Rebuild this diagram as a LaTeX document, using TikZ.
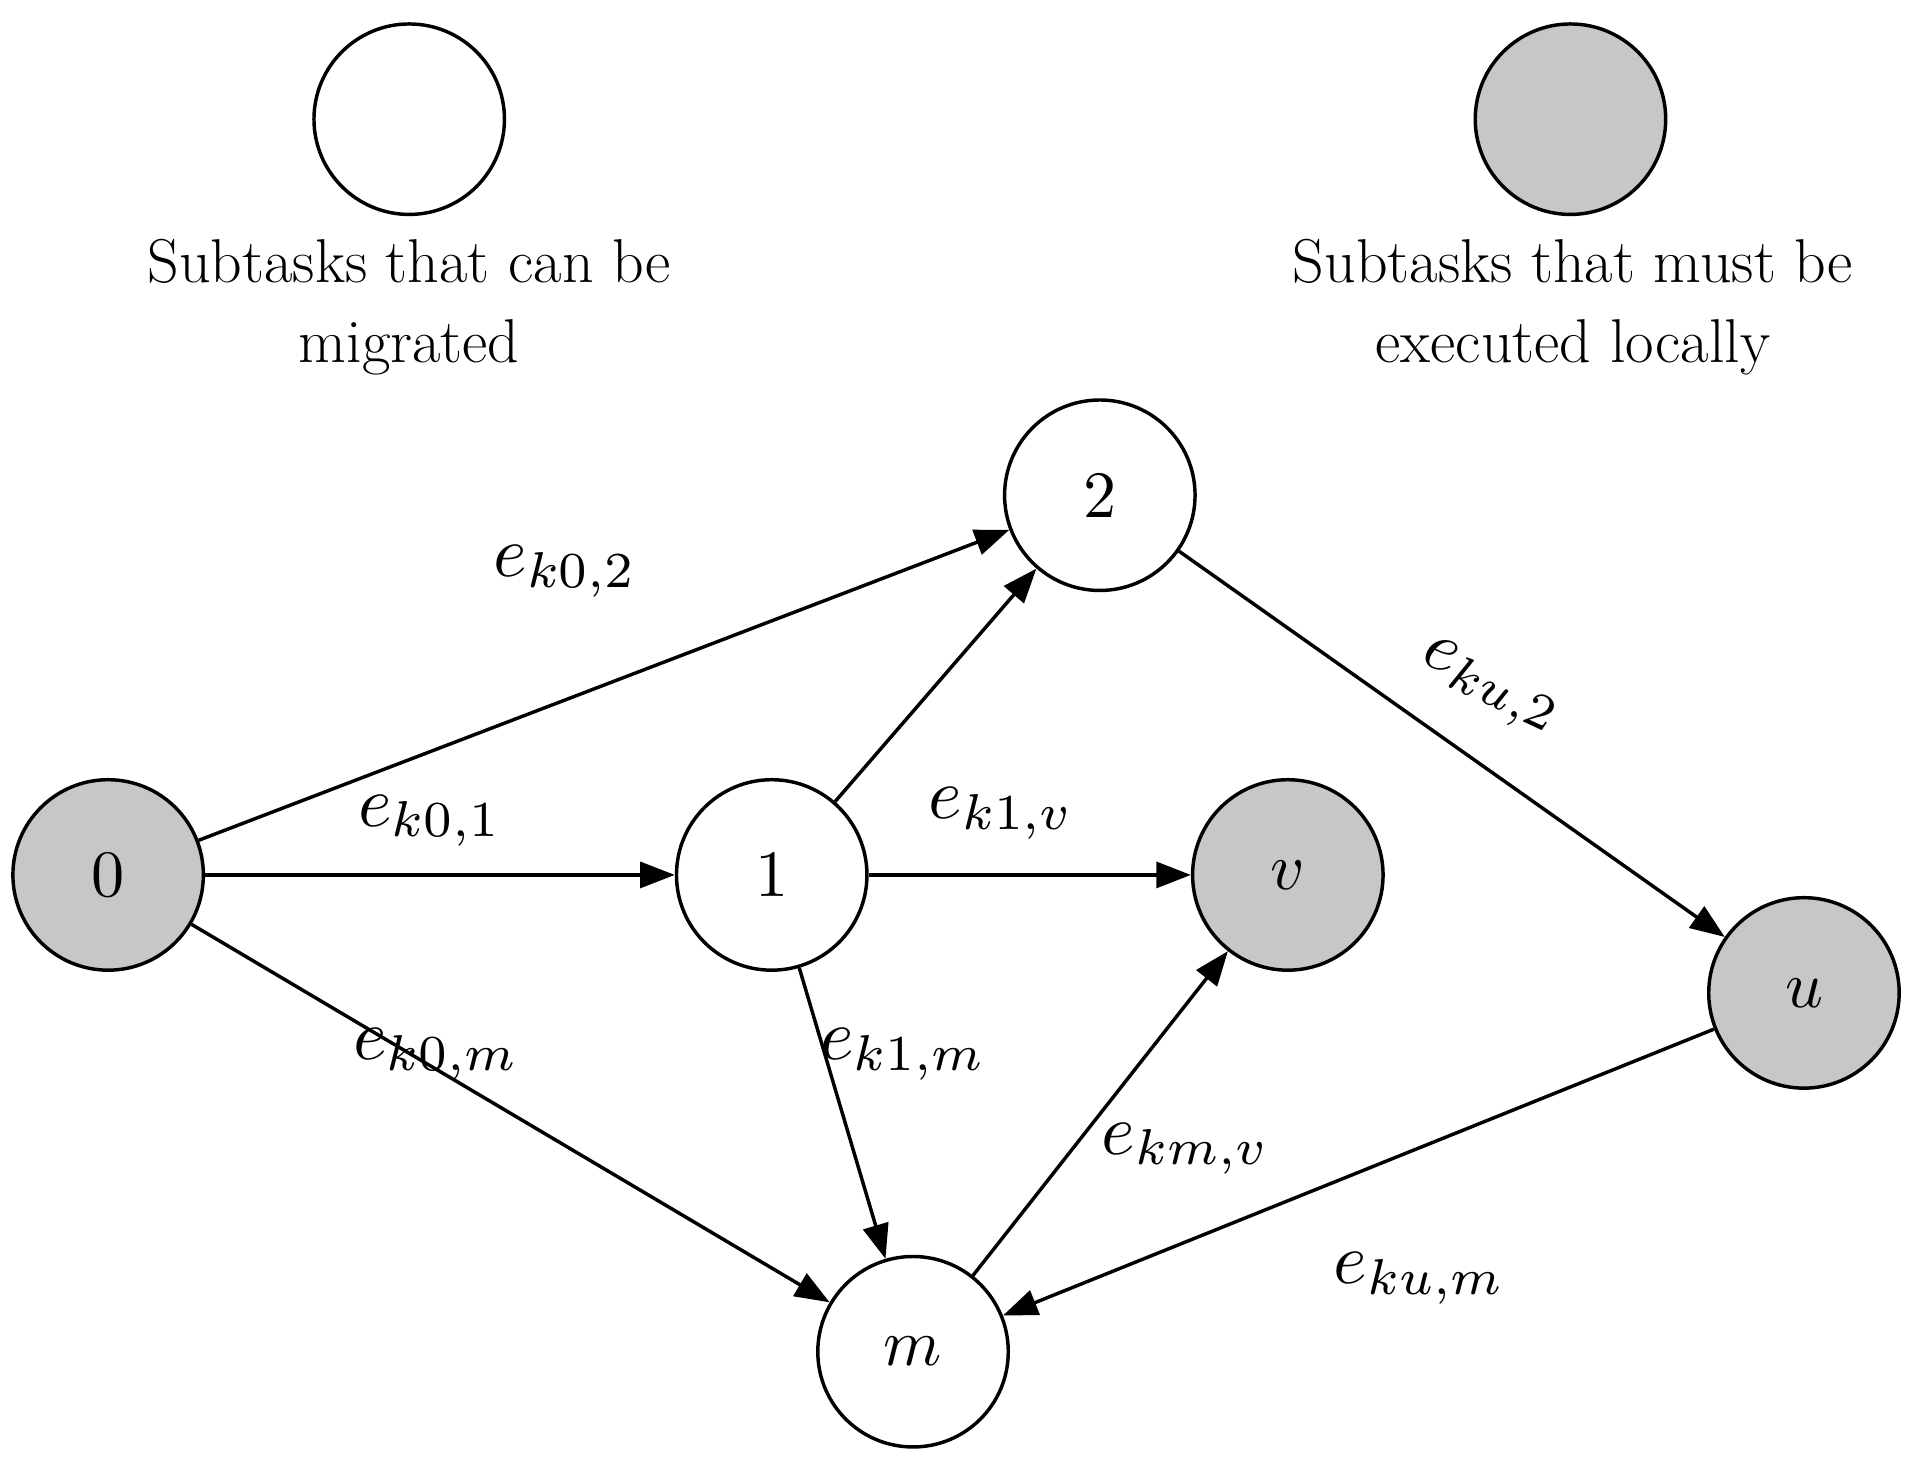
\documentclass[tikz,border=0pt]{standalone}
\usepackage{graphicx}
\usetikzlibrary{arrows.meta}
\newcommand\SclA[1]{\scalebox{5}{#1}}
\newcommand\SclB[1]{\scalebox{4.6}{#1}}
\begin{document}
\begin{tikzpicture}[x=0.03cm,y=-0.03cm,
  nd/.style={circle,draw,line width=2.4pt,minimum size=4.65cm,inner sep=0pt},
  loc/.style={nd,fill=black!22},
  ar/.style={line width=2.4pt,-{Triangle[length=24pt,width=18pt]}},
  tx/.style={font=\fontsize{43}{56}\selectfont,align=center}]
\useasboundingbox (0,0) rectangle (1560,1188);
\node[nd] (lw) at (333,97) {};
\node[loc] (lg) at (1278,97) {};
\node[tx] (tw) at (333,250) {Subtasks that can be\\migrated};
\node[tx] (tg) at (1280,250) {Subtasks that must be\\executed locally};
\node[loc] (n0) at (88,712) {\SclB{0}};
\node[nd] (n1) at (628,712) {\SclB{1}};
\node[nd] (n2) at (895,403) {\SclB{2}};
\node[loc] (nv) at (1048,712) {\SclB{$v$}};
\node[loc] (nu) at (1468,808) {\SclB{$u$}};
\node[nd] (nm) at (743,1100) {\SclB{$m$}};
\draw[ar] (n0) -- (n2);
\draw[ar] (n0) -- (n1);
\draw[ar] (n0) -- (nm);
\draw[ar] (n1) -- (n2);
\draw[ar] (n1) -- (nv);
\draw[ar] (n1) -- (nm);
\draw[ar] (nm) -- (nv);
\draw[ar] (n2) -- (nu);
\draw[ar] (nu) -- (nm);
\node (l02) at (460,465) {\SclA{$e_{k0,2}$}};
\node (l01) at (350,668) {\SclA{$e_{k0,1}$}};
\node (l1v) at (815,662) {\SclA{$e_{k1,v}$}};
\node[rotate=-25] (lu2) at (1212,560) {\SclA{$e_{ku,2}$}};
\node (l0m) at (355,858) {\SclA{$e_{k0,m}$}};
\node (l1m) at (735,858) {\SclA{$e_{k1,m}$}};
\node (lmv) at (965,935) {\SclA{$e_{km,v}$}};
\node (lum) at (1155,1040) {\SclA{$e_{ku,m}$}};
\end{tikzpicture}
\end{document}
